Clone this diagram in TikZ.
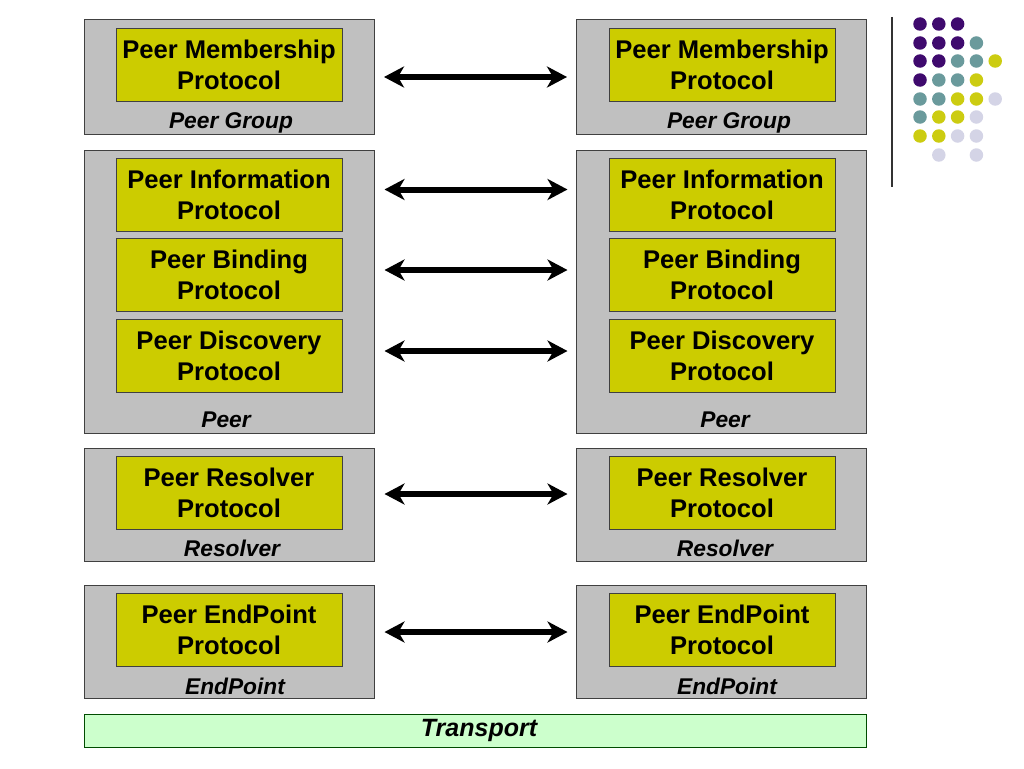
\documentclass[tikz,border=0pt]{standalone}
\usepackage{fontspec}
\setmainfont{Liberation Sans}
\usetikzlibrary{arrows.meta}
\definecolor{boxgray}{HTML}{C0C0C0}
\definecolor{protoyel}{HTML}{CCCC00}
\definecolor{transgreen}{HTML}{CCFFCC}
\definecolor{dotP}{HTML}{3F0A6E}
\definecolor{dotT}{HTML}{6A9A9C}
\definecolor{dotY}{HTML}{CCCC11}
\definecolor{dotL}{HTML}{D4D4E6}
\tikzset{
  outerbox/.style={draw=black!75, line width=1pt, fill=boxgray, minimum width=290pt, inner sep=0pt},
  proto/.style={draw=black!75, line width=1pt, fill=protoyel, minimum width=226pt, minimum height=73pt, inner sep=0pt, align=center, font=\fontsize{25.6}{31}\selectfont\bfseries},
  lbl/.style={inner sep=0pt, anchor=base, font=\fontsize{22.75}{27}\selectfont\bfseries\itshape},
  arr/.style={line width=6pt, {Stealth[length=20pt,width=21pt,inset=6pt]}-{Stealth[length=20pt,width=21pt,inset=6pt]}},
  dot/.style={circle, inner sep=0pt, minimum size=13.5pt},
}
\begin{document}
\begin{tikzpicture}[x=1pt,y=-1pt]
\useasboundingbox (0,0) rectangle (1024,768);
% outer boxes
\node[outerbox, minimum height=114pt] (LG) at (229.5,77) {};
\node[outerbox, minimum height=114pt] (RG) at (721.5,77) {};
\node[outerbox, minimum height=283pt] (LP) at (229.5,291.5) {};
\node[outerbox, minimum height=283pt] (RP) at (721.5,291.5) {};
\node[outerbox, minimum height=113pt] (LR) at (229.5,504.5) {};
\node[outerbox, minimum height=113pt] (RR) at (721.5,504.5) {};
\node[outerbox, minimum height=113pt] (LE) at (229.5,641.5) {};
\node[outerbox, minimum height=113pt] (RE) at (721.5,641.5) {};
% protocols
\node[proto] (LMem) at (229,65) {Peer Membership\\Protocol};
\node[proto] (RMem) at (722,65) {Peer Membership\\Protocol};
\node[proto] (LInf) at (229,194.5) {Peer Information\\Protocol};
\node[proto] (RInf) at (722,194.5) {Peer Information\\Protocol};
\node[proto] (LBin) at (229,274.5) {Peer Binding\\Protocol};
\node[proto] (RBin) at (722,274.5) {Peer Binding\\Protocol};
\node[proto] (LDis) at (229,355.5) {Peer Discovery\\Protocol};
\node[proto] (RDis) at (722,355.5) {Peer Discovery\\Protocol};
\node[proto] (LRes) at (229,492.5) {Peer Resolver\\Protocol};
\node[proto] (RRes) at (722,492.5) {Peer Resolver\\Protocol};
\node[proto] (LEnd) at (229,630) {Peer EndPoint\\Protocol};
\node[proto] (REnd) at (722,630) {Peer EndPoint\\Protocol};
% labels
\node[lbl] (LGl) at (231,128) {Peer Group};
\node[lbl] (RGl) at (729,128) {Peer Group};
\node[lbl] (LPl) at (226,427) {Peer};
\node[lbl] (RPl) at (725,427) {Peer};
\node[lbl] (LRl) at (232,556) {Resolver};
\node[lbl] (RRl) at (725,556) {Resolver};
\node[lbl] (LEl) at (235,694) {EndPoint};
\node[lbl] (REl) at (727,694) {EndPoint};
% transport
\node[draw=black!70!green, line width=1pt, fill=transgreen, minimum width=782pt, minimum height=33pt, inner sep=0pt] (T) at (475,730.5) {};
\node[lbl, font=\fontsize{25}{28}\selectfont\bfseries\itshape] (Tl) at (479,736) {Transport};
% arrows
\draw[arr, shorten <=9pt, shorten >=9pt] (LG.east) -- (RG.west);
\draw[arr, shorten <=42pt, shorten >=41pt] ([yshift=5pt]LInf.east) -- ([yshift=5pt]RInf.west);
\draw[arr, shorten <=42pt, shorten >=41pt] ([yshift=4.5pt]LBin.east) -- ([yshift=4.5pt]RBin.west);
\draw[arr, shorten <=42pt, shorten >=41pt] ([yshift=4.5pt]LDis.east) -- ([yshift=4.5pt]RDis.west);
\draw[arr, shorten <=42pt, shorten >=41pt] ([yshift=-1.5pt]LRes.east) -- ([yshift=-1.5pt]RRes.west);
\draw[arr, shorten <=42pt, shorten >=41pt] ([yshift=-2pt]LEnd.east) -- ([yshift=-2pt]REnd.west);
% decoration
\coordinate (vt) at (892,17);
\coordinate (vb) at (892,187);
\draw[line width=1.3pt, black!80] (vt) -- (vb);
\foreach \row/\y in {{P,P,P}/24, {P,P,P,T}/43, {P,P,T,T,Y}/61, {P,T,T,Y}/80, {T,T,Y,Y,L}/99, {T,Y,Y,L}/117, {Y,Y,L,L}/136} {
  \foreach \c [count=\i from 0] in \row {
    \node[dot, fill=dot\c] at (920+18.8*\i,\y) {};
  }
}
\node[dot, fill=dotL] at (938.8,155) {};
\node[dot, fill=dotL] at (976.4,155) {};
\end{tikzpicture}
\end{document}
